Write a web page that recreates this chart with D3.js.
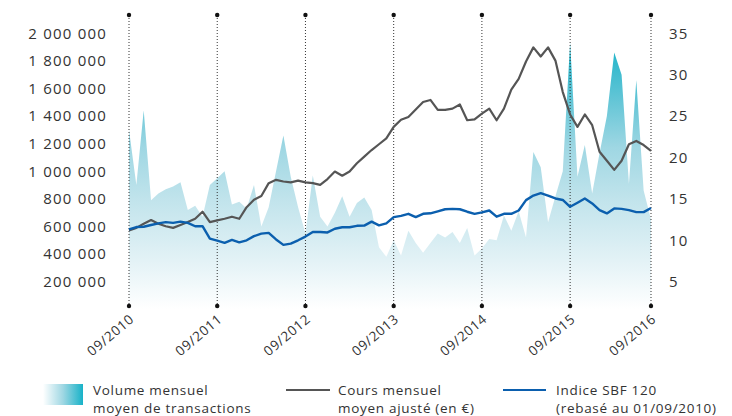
<!DOCTYPE html>
<html>
<head>
<meta charset="utf-8">
<script src="https://cdn.jsdelivr.net/npm/d3@7"></script>
<style>
  body { margin: 0; background: #fff; }
  text { font-family: "Open Sans", sans-serif; fill: #333; }
</style>
</head>
<body>
<div id="chart"></div>
<script>
// monthly points, 09/2010 .. 08/2016 (index 0..71)
const volume = [1.30,0.90,1.44,0.79,0.84,0.87,0.89,0.92,0.72,0.75,0.67,0.90,
  0.95,1.00,0.76,0.78,0.73,0.90,0.60,0.74,1.00,1.26,0.96,0.74,
  0.55,0.97,0.67,0.60,0.70,0.82,0.67,0.77,0.81,0.72,0.45,0.38,
  0.50,0.39,0.57,0.48,0.41,0.48,0.55,0.52,0.56,0.48,0.59,0.39,
  0.44,0.51,0.50,0.68,0.57,0.71,0.52,1.14,1.03,0.63,0.82,1.00,
  1.93,0.96,1.19,0.84,1.13,1.40,1.86,1.70,0.91,1.66,0.86,0.65].map(v => v * 1e6);

const cours = [11.2,11.5,12.0,12.45,12.0,11.7,11.5,11.85,12.2,12.6,13.45,12.2,
  12.4,12.6,12.85,12.6,14.0,14.9,15.35,16.9,17.3,17.1,17.0,17.2,
  17.0,16.9,16.7,17.4,18.3,17.8,18.3,19.3,20.1,20.9,21.6,22.3,
  23.7,24.55,24.9,25.8,26.7,26.95,25.75,25.75,25.9,26.4,24.5,24.6,
  25.3,25.9,24.5,25.9,28.2,29.5,31.6,33.3,32.2,33.3,31.7,27.9,
  25.2,23.7,25.2,23.9,20.7,19.6,18.5,19.6,21.6,22.0,21.5,20.8];

const sbf = [11.33,11.6,11.64,11.85,12.05,12.2,12.1,12.25,12.1,11.7,11.7,10.2,
  9.95,9.7,10.05,9.75,10.0,10.5,10.8,10.9,10.1,9.45,9.6,10.0,
  10.45,11.0,11.0,10.95,11.4,11.57,11.57,11.75,11.77,12.25,11.8,12.05,
  12.8,12.95,13.2,12.8,13.2,13.26,13.5,13.75,13.8,13.75,13.45,13.2,
  13.38,13.6,12.85,13.2,13.2,13.6,14.85,15.4,15.7,15.4,15.05,14.87,
  14.05,14.54,15.05,14.45,13.65,13.25,13.85,13.8,13.65,13.4,13.4,13.9];

const tickIdx = [0, 12, 24, 36, 48, 60, 71];
const tickLabels = ["09/2010","09/2011","09/2012","09/2013","09/2014","09/2015","09/2016"];
const leftTicks = [200000,400000,600000,800000,1000000,1200000,1400000,1600000,1800000,2000000];
const rightTicks = [5,10,15,20,25,30,35];
const legendLabels = [
  ["Volume mensuel", "moyen de transactions"],
  ["Cours mensuel", "moyen ajusté (en €)"],
  ["Indice SBF 120", "(rebasé au 01/09/2010)"]
];

const W = 732, H = 416;
const svg = d3.select("#chart").append("svg").attr("width", W).attr("height", H);

const x = d3.scaleLinear().domain([0, 71]).range([129, 651]);
const yL = d3.scaleLinear().domain([0, 2000000]).range([309.3, 33.3]);
const yR = d3.scaleLinear().domain([5, 35]).range([281.7, 33.3]);

const defs = svg.append("defs");
const grad = defs.append("linearGradient").attr("id", "volGrad")
  .attr("gradientUnits", "userSpaceOnUse")
  .attr("x1", 0).attr("x2", 0).attr("y1", 40).attr("y2", 309);
[[0, "#17b2c8"], [0.22, "#62c5d6"], [0.4, "#9fd7e3"], [0.6, "#c2e4ec"], [0.82, "#e3f2f6"], [1, "#ffffff"]]
  .forEach(s => grad.append("stop").attr("offset", s[0]).attr("stop-color", s[1]));
const lgrad = defs.append("linearGradient").attr("id", "legGrad")
  .attr("x1", 0).attr("x2", 1).attr("y1", 0).attr("y2", 0);
[[0, "#ffffff"], [0.5, "#9fd7e3"], [1, "#17b2c8"]]
  .forEach(s => lgrad.append("stop").attr("offset", s[0]).attr("stop-color", s[1]));

// volume area
const area = d3.area().x((d, i) => x(i)).y0(yL(0)).y1(d => yL(d));
svg.append("path").datum(volume).attr("d", area).attr("fill", "url(#volGrad)");

// vertical dotted year lines
const g = svg.append("g");
tickIdx.forEach((t, k) => {
  g.append("line").attr("x1", x(t)).attr("x2", x(t)).attr("y1", 15).attr("y2", 306)
    .attr("stroke", "#333").attr("stroke-width", 1).attr("stroke-dasharray", "1,2");
  g.append("circle").attr("cx", x(t)).attr("cy", 15).attr("r", 2.2).attr("fill", "#111");
  g.append("circle").attr("cx", x(t)).attr("cy", 306).attr("r", 2.2).attr("fill", "#111");
  g.append("text").attr("transform", `translate(${x(t) + 3},${317}) rotate(-40)`)
    .attr("text-anchor", "end").attr("dy", "0.35em")
    .style("font-size", "13.5px").style("letter-spacing", "0.7px")
    .text(tickLabels[k]);
});

// lines
const lineL = d3.line().x((d, i) => x(i)).y(d => yR(d));
svg.append("path").datum(cours).attr("d", lineL).attr("fill", "none")
  .attr("stroke", "#555").attr("stroke-width", 2.2).attr("stroke-linejoin", "round");
svg.append("path").datum(sbf).attr("d", lineL).attr("fill", "none")
  .attr("stroke", "#0b5fae").attr("stroke-width", 2.4).attr("stroke-linejoin", "round");

// axes
const fmt = d => d3.format(",")(d).replace(/,/g, " ");
const axL = svg.append("g").attr("transform", "translate(107,0)")
  .call(d3.axisLeft(yL).tickValues(leftTicks).tickSize(0).tickPadding(0).tickFormat(fmt));
const axR = svg.append("g").attr("transform", "translate(669,0)")
  .call(d3.axisRight(yR).tickValues(rightTicks).tickSize(0).tickPadding(0));
[axL, axR].forEach(a => {
  a.select(".domain").remove();
  a.selectAll("text").style("font-family", "'Open Sans', sans-serif")
    .style("font-size", "15px").style("letter-spacing", "1.2px").attr("fill", "#333");
});

// legend
const leg = svg.append("g");
leg.append("rect").attr("x", 43).attr("y", 384).attr("width", 40).attr("height", 21).attr("fill", "url(#legGrad)");
leg.append("line").attr("x1", 286).attr("x2", 330).attr("y1", 390).attr("y2", 390)
  .attr("stroke", "#555").attr("stroke-width", 2);
leg.append("line").attr("x1", 503).attr("x2", 546).attr("y1", 390).attr("y2", 390)
  .attr("stroke", "#0b5fae").attr("stroke-width", 2);
[93, 338, 556].forEach((lx, k) => {
  [0, 1].forEach(r => {
    leg.append("text").attr("x", lx).attr("y", 394.5 + r * 18.5)
      .style("font-size", "13.5px").style("letter-spacing", "0.7px")
      .text(legendLabels[k][r]);
  });
});
</script>
</body>
</html>
